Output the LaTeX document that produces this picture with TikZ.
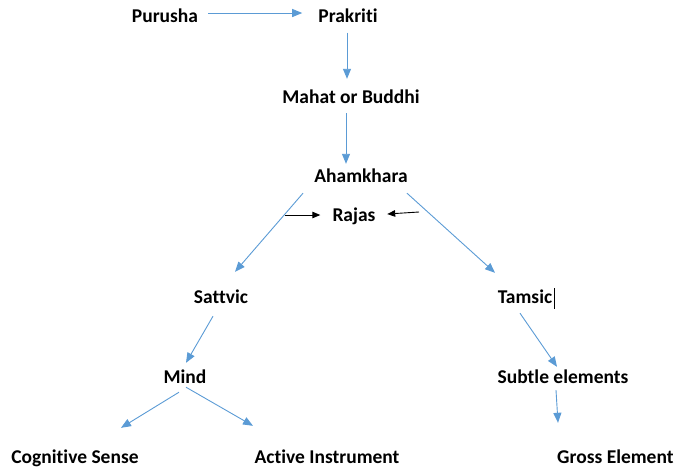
\documentclass[tikz,border=0pt]{standalone}
\usepackage{fontspec}
\setmainfont{Carlito}[RawFeature=-liga]
\usetikzlibrary{arrows.meta, positioning, calc}
\definecolor{wordblue}{HTML}{5B9BD5}

\begin{document}
\begin{tikzpicture}[
    x=1pt, y=-1pt,
    lbl/.style={inner sep=0pt, text height=13pt, text depth=0pt, font=\fontsize{19.5}{22}\selectfont\bfseries},
    link/.style={draw=wordblue, line width=0.9pt, -{Triangle[length=10pt, width=8pt]}, wordblue},
    pull/.style={draw=black, line width=0.9pt, -{Triangle[length=8pt, width=6.5pt]}}
]
    \useasboundingbox (0,0) rectangle (677,467);
    % text nodes
    \node[lbl] (purusha)   at (165,16)  {Purusha};
    \node[lbl] (prakriti)  at (348,16)  {Prakriti};
    \node[lbl] (mahat)     at (351,97)  {Mahat or Buddhi};
    \node[lbl] (aham)      at (361,176) {Ahamkhara};
    \node[lbl] (rajas)     at (354,215) {Rajas};
    \node[lbl] (sattvic)   at (221,297) {Sattvic};
    \node[lbl] (tamsic)    at (525,297) {Tamsic};
    \node[lbl] (mind)      at (185,377) {Mind};
    \node[lbl] (subtle)    at (563,377) {Subtle elements};
    \node[lbl] (cognitive) at (75,457)  {Cognitive Sense};
    \node[lbl] (active)    at (327,457) {Active Instrument};
    \node[lbl, anchor=west] (gross) at (557,457) {Gross Element};
    \coordinate (rajasL) at (285,215);
    \coordinate (rajasR) at (419,212);
    % connectors
    \draw[link] ($(purusha.east)+(10,-3)$) -- ($(prakriti.west)+(-16,-3)$);
    \draw[link] ($(prakriti.south)+(-1,10)$) -- ($(prakriti.south |- mahat.north)+(-1,-11.5)$);
    \draw[link] ($(mahat.south)+(-5,9.5)$) -- ($(mahat.south |- aham.north)+(-5,-5.5)$);
    \draw[link] ($(aham.south)+(-58,10.5)$) -- ($(sattvic.north)+(14,-18.5)$);
    \draw[link] ($(aham.south)+(46,10.5)$) -- ($(tamsic.north)+(-30,-17.5)$);
    \draw[pull] (rajasL) -- ($(rajas.west)+(-12,0)$);
    \draw[pull] (rajasR) -- ($(rajas.east)+(11.5,-1)$);
    \draw[link] ($(sattvic.south)+(-8,12.5)$) -- ($(mind.north)+(1,-7.5)$);
    \draw[link] ($(mind.south)+(-6,8.5)$) -- ($(cognitive.north)+(46,-22.5)$);
    \draw[link] ($(mind.south)+(1,3.5)$) -- ($(active.north)+(-74,-24.5)$);
    \draw[link] ($(tamsic.south)+(-5,9.5)$) -- ($(subtle.north)+(-6,-3.5)$);
    \draw[link] ($(subtle.south)+(-7,6.5)$) -- ($(gross.north west)+(1,-27.5)$);
    % text cursor after Tamsic
    \draw[line width=0.6pt] ($(tamsic.east)+(1.5,-9)$) -- ++(0,21);
\end{tikzpicture}
\end{document}
